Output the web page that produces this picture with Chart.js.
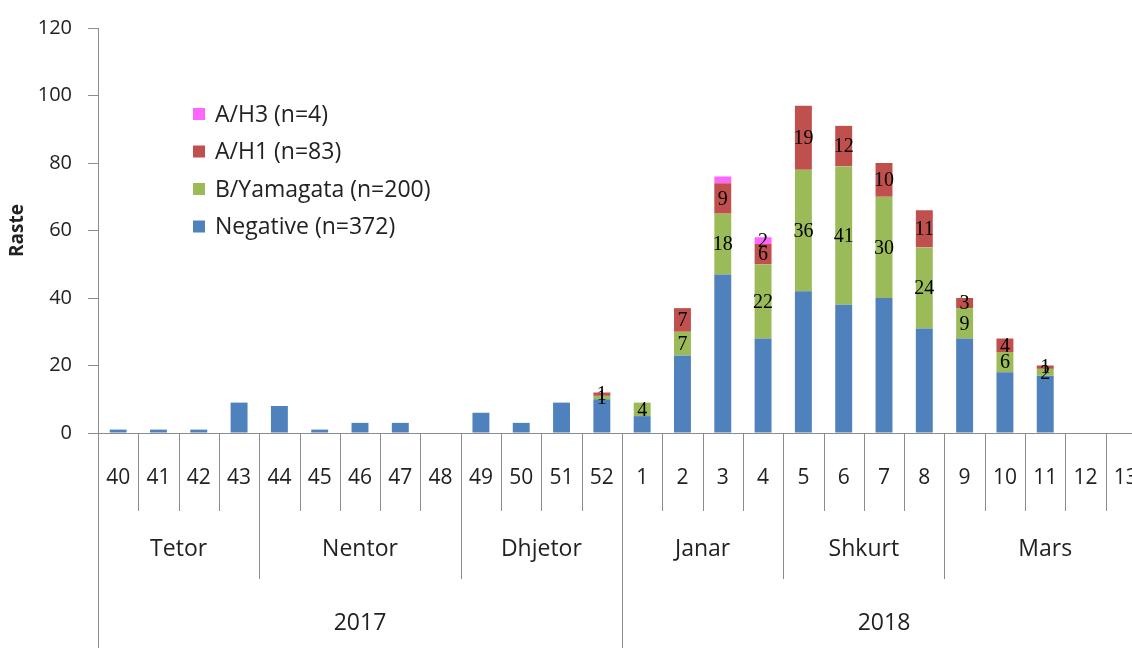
<!DOCTYPE html>
<html>
<head>
<meta charset="utf-8">
<script src="https://cdn.jsdelivr.net/npm/chart.js@4.4.1/dist/chart.umd.min.js"></script>
<style>
  html, body { margin: 0; padding: 0; background: #fff; overflow: hidden; }
  #wrap { width: 1146px; height: 648px; }
</style>
</head>
<body>
<div id="wrap"><canvas id="fluChart" width="1146" height="648"></canvas></div>
<script>
// weeks and their month / year groups
const weeks = ['40','41','42','43','44','45','46','47','48','49','50','51','52',
               '1','2','3','4','5','6','7','8','9','10','11','12','13'];
const months = ['Tetor', 'Nentor', 'Dhjetor', 'Janar', 'Shkurt', 'Mars'];
const monthSpans = [4, 5, 4, 4, 4, 5];
const years = ['2017', '2018'];
const yearSpans = [13, 13];

// cases per week
const negative = [1,1,1,9,8,1,3,3,0,6,3,9,10, 5,23,47,28,42,38,40,31,28,18,17,0,0];
const bYamagata = [0,0,0,0,0,0,0,0,0,0,0,0,1, 4,7,18,22,36,41,30,24,9,6,2,0,0];
const aH1 = [0,0,0,0,0,0,0,0,0,0,0,0,1, 0,7,9,6,19,12,10,11,3,4,1,0,0];
const aH3 = [0,0,0,0,0,0,0,0,0,0,0,0,0, 0,0,2,2,0,0,0,0,0,0,0,0,0];

const yTicks = [0, 20, 40, 60, 80, 100, 120];

// the original shows no label on the A/H3 piece of week 3
const unlabelled = ['3:15'];

const textColor = '#222';
const lineColor = '#8c8c8c';
const fontFamily = "'Open Sans', 'DejaVu Sans', sans-serif";
const labelFont = "20px 'Liberation Serif', 'DejaVu Serif', serif";

// draws legend, data labels and the grouped x axis
const extrasPlugin = {
    id: 'extras',
    afterDatasetsDraw(chart) {
        const ctx = chart.ctx;
        const area = chart.chartArea;
        const x = chart.scales.x;
        const catW = x.width / weeks.length;
        const left = area.left;
        const base = area.bottom;

        ctx.save();

        // data labels (not on Negative)
        ctx.font = labelFont;
        ctx.fillStyle = '#000';
        ctx.textAlign = 'center';
        ctx.textBaseline = 'middle';
        for (let d = 1; d < chart.data.datasets.length; d++) {
            const meta = chart.getDatasetMeta(d);
            chart.data.datasets[d].data.forEach((v, i) => {
                if (!v || unlabelled.includes(d + ':' + i)) return;
                const bar = meta.data[i];
                ctx.fillText(String(v), bar.x, (bar.y + bar.base) / 2 + 1);
            });
        }

        // baseline and long left line
        ctx.strokeStyle = lineColor;
        ctx.lineWidth = 1;
        ctx.beginPath();
        ctx.moveTo(left, base + 0.5);
        ctx.lineTo(chart.width, base + 0.5);
        ctx.moveTo(left + 0.5, area.top);
        ctx.lineTo(left + 0.5, chart.height);
        ctx.stroke();

        // week level
        ctx.font = "21px " + fontFamily;
        ctx.fillStyle = textColor;
        weeks.forEach((w, i) => {
            ctx.fillText(w, x.getPixelForValue(i), base + 45);
            const bx = Math.round(left + (i + 1) * catW) + 0.5;
            ctx.beginPath();
            ctx.moveTo(bx, base);
            ctx.lineTo(bx, base + 78);
            ctx.stroke();
        });

        // month level
        ctx.font = "23px " + fontFamily;
        let start = 0;
        months.forEach((m, k) => {
            const end = start + monthSpans[k];
            const cx = left + (start + end) / 2 * catW;
            ctx.fillText(m, cx, base + 116);
            const bx = Math.round(left + end * catW) + 0.5;
            ctx.beginPath();
            ctx.moveTo(bx, base);
            ctx.lineTo(bx, base + 146);
            ctx.stroke();
            start = end;
        });

        // year level
        start = 0;
        years.forEach((y, k) => {
            const end = start + yearSpans[k];
            const cx = left + (start + end) / 2 * catW;
            ctx.fillText(y, cx, base + 190);
            const bx = Math.round(left + end * catW) + 0.5;
            ctx.beginPath();
            ctx.moveTo(bx, base);
            ctx.lineTo(bx, chart.height);
            ctx.stroke();
            start = end;
        });

        // legend, top series first
        ctx.textAlign = 'left';
        const sets = chart.data.datasets.slice().reverse();
        sets.forEach((ds, k) => {
            const cy = 114 + k * 37.5;
            ctx.fillStyle = ds.backgroundColor;
            ctx.fillRect(193, cy - 6, 12, 12);
            ctx.fillStyle = textColor;
            ctx.fillText(ds.label, 215, cy + 1);
        });

        ctx.restore();
    }
};

const ctx = document.getElementById('fluChart').getContext('2d');
const fluChart = new Chart(ctx, {
    type: 'bar',
    data: {
        labels: weeks,
        datasets: [
            { label: 'Negative (n=372)', data: negative, backgroundColor: '#4F81BD' },
            { label: 'B/Yamagata (n=200)', data: bYamagata, backgroundColor: '#9BBB59' },
            { label: 'A/H1 (n=83)', data: aH1, backgroundColor: '#C0504D' },
            { label: 'A/H3 (n=4)', data: aH3, backgroundColor: '#FF66FF' }
        ]
    },
    options: {
        responsive: false,
        animation: false,
        devicePixelRatio: 1,
        layout: { padding: { top: 25, bottom: 215, left: 0, right: 0 } },
        datasets: {
            bar: { barPercentage: 0.42, categoryPercentage: 1.0, borderWidth: 0 }
        },
        plugins: {
            legend: { display: false },
            tooltip: { enabled: false }
        },
        scales: {
            x: {
                stacked: true,
                display: false
            },
            y: {
                stacked: true,
                min: 0,
                max: 120,
                afterBuildTicks: scale => { scale.ticks = yTicks.map(v => ({ value: v })); },
                afterFit: scale => { scale.width = 98; },
                ticks: {
                    color: textColor,
                    padding: 16,
                    font: { size: 20, family: fontFamily }
                },
                grid: {
                    drawOnChartArea: false,
                    drawTicks: true,
                    tickLength: 10,
                    color: lineColor
                },
                border: { display: true, color: lineColor },
                title: {
                    display: true,
                    text: 'Raste',
                    color: textColor,
                    padding: { top: 6, bottom: 0 },
                    font: { size: 19, weight: 'bold', family: fontFamily }
                }
            }
        }
    },
    plugins: [extrasPlugin]
});
</script>
</body>
</html>
